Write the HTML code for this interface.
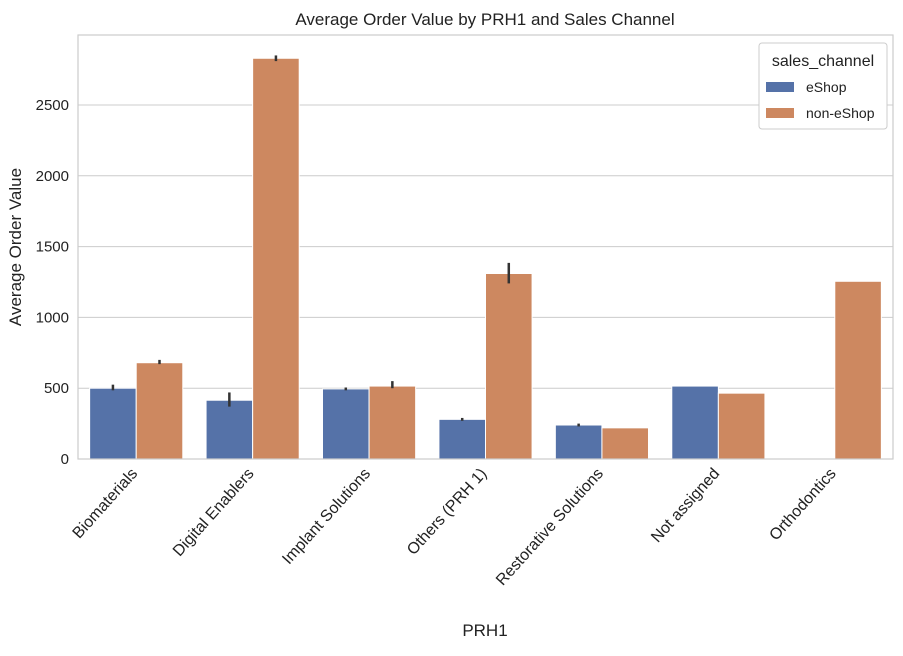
<!DOCTYPE html>
<html><head><meta charset="utf-8"><style>
body{margin:0;background:#fff;font-family:"Liberation Sans","DejaVu Sans",sans-serif;}
</style></head><body>
<svg id="chart" width="903" height="651" xmlns="http://www.w3.org/2000/svg" font-family="Liberation Sans, DejaVu Sans, sans-serif"></svg>
<script>
const categories=["Biomaterials","Digital Enablers","Implant Solutions","Others (PRH 1)","Restorative Solutions","Not assigned","Orthodontics"];
const eshopValues=[500,415,495,280,240,515,null];
const nonEshopValues=[680,2830,515,1310,220,465,1255];
const eshopErrLow=[485,370,485,270,230,null,null];
const eshopErrHigh=[525,470,505,290,250,null,null];
const nonErrLow=[670,2810,500,1240,null,null,null];
const nonErrHigh=[700,2850,550,1385,null,null,null];
const yTicks=[0,500,1000,1500,2000,2500];
const L=78,R=893,T=35,B=459;
const y=v=>B-v*0.1416;
const bw=(R-L)/categories.length;
const xc=i=>L+bw*(i+0.5);
const svg=document.getElementById('chart');
const NS="http://www.w3.org/2000/svg";
function mk(t,a,p){const e=document.createElementNS(NS,t);for(const k in a)e.setAttribute(k,a[k]);(p||svg).appendChild(e);return e;}
let title=mk('text',{x:485,y:25,'text-anchor':'middle','font-size':17,fill:'#222'});title.textContent='Average Order Value by PRH1 and Sales Channel';

yTicks.forEach(t=>{
 const g=mk('line',{x1:L,x2:R,y1:y(t),y2:y(t),stroke:'#ccc','stroke-width':1});
 
 const tx=mk('text',{x:L-9,y:y(t)+5,'text-anchor':'end','font-size':15,fill:'#222'});tx.textContent=t;
 
});
const gw=bw*0.8,half=gw/2;
function bar(i,v,off,col,lo,hi){
 if(v==null)return;
 const x=xc(i)+off;
 const r=mk('rect',{x:x,y:y(v),width:half,height:B-y(v),fill:col,stroke:'#fff','stroke-width':1});
 
 if(lo!=null){const e=mk('line',{x1:x+half/2,x2:x+half/2,y1:y(lo),y2:y(hi),stroke:'#333','stroke-width':2.5});
 }
}
categories.forEach((c,i)=>{
 bar(i,eshopValues[i],-half,'#5572a8',eshopErrLow[i],eshopErrHigh[i]);
 bar(i,nonEshopValues[i],0,'#cd8860',nonErrLow[i],nonErrHigh[i]);
 const ax=xc(i)+2, ay=B+15;
 const tx=mk('text',{x:ax,y:ay,'text-anchor':'end','font-size':16,fill:'#222',transform:`rotate(-48 ${ax} ${ay})`});tx.textContent=c;
 
});
const fr=mk('rect',{x:L,y:T,width:R-L,height:B-T,fill:'none',stroke:'#ccc','stroke-width':1.2});

let xl=mk('text',{x:485,y:636,'text-anchor':'middle','font-size':17,fill:'#222'});xl.textContent='PRH1';

let yl=mk('text',{x:21,y:247,'text-anchor':'middle','font-size':17,fill:'#222',transform:'rotate(-90 21 247)'});yl.textContent='Average Order Value';

const lg=mk('g',{});
mk('rect',{x:759,y:43,width:128,height:86,rx:3,fill:'#fff',stroke:'#ccc'},lg);
let lt=mk('text',{x:823,y:66,'text-anchor':'middle','font-size':16,fill:'#222'},lg);lt.textContent='sales_channel';
[['eShop','#5572a8',88],['non-eShop','#cd8860',114]].forEach(([n,c,yy])=>{
 const ge=mk('g',{},lg);
 mk('rect',{x:766,y:yy-6,width:28,height:10,fill:c},ge);
 const t=mk('text',{x:806,y:yy+4,'font-size':14,fill:'#222'},ge);t.textContent=n;
});
</script>
</body></html>
